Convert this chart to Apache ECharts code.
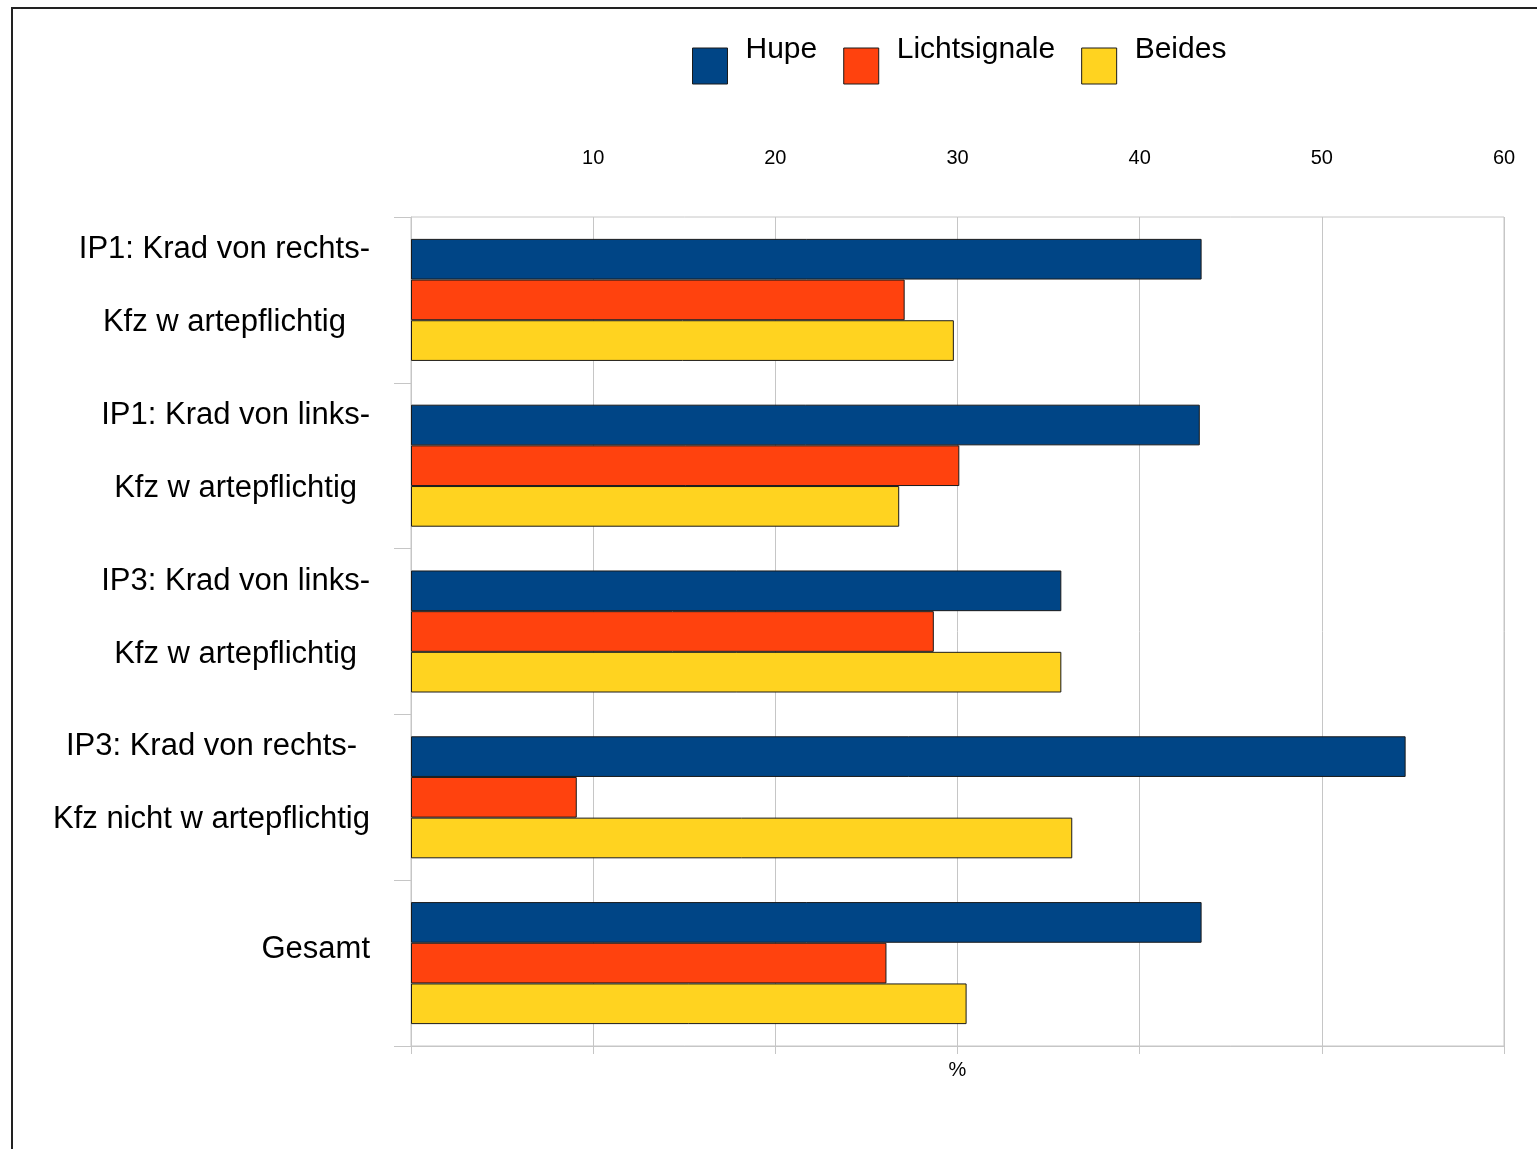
<!DOCTYPE html>
<html>
<head>
<meta charset="utf-8">
<script src="https://cdn.jsdelivr.net/npm/echarts@6/dist/echarts.min.js"></script>
<style>
html,body{margin:0;padding:0;background:#fff;}
#frame{position:absolute;left:11px;top:7px;width:1600px;height:1200px;border-left:2px solid #222;border-top:2px solid #222;}
#chart{position:absolute;left:0;top:0;width:1537px;height:1149px;}
</style>
</head>
<body>
<div id="frame"></div>
<div id="chart"></div>
<script>
const categories = [
  'IP1: Krad von rechts-\nKfz w artepflichtig',
  'IP1: Krad von links-\nKfz w artepflichtig',
  'IP3: Krad von links-\nKfz w artepflichtig',
  'IP3: Krad von rechts-\nKfz nicht w artepflichtig',
  'Gesamt'
];
const seriesNames = ['Hupe', 'Lichtsignale', 'Beides'];
const hupe = [43.4, 43.3, 35.7, 54.6, 43.4];
const lichtsignale = [27.1, 30.1, 28.7, 9.1, 26.1];
const beides = [29.8, 26.8, 35.7, 36.3, 30.5];
const colors = ['#004586', '#ff420e', '#ffd320'];
const axisName = '%';

const FONT = "'Liberation Sans', Arial, sans-serif";
const chart = echarts.init(document.getElementById('chart'), null, {renderer: 'canvas'});
const gridColor = '#c6c6c6';

const barStyle = (c) => ({color: c, borderColor: '#1a1a1a', borderWidth: 1});

chart.setOption({
  backgroundColor: 'transparent',
  animation: false,
  textStyle: {fontFamily: FONT, color: '#000'},
  legend: {
    left: 692, top: 35, padding: 0,
    itemWidth: 35, itemHeight: 36, itemGap: 26,
    icon: 'rect',
    itemStyle: {borderColor: '#1a1a1a', borderWidth: 1},
    formatter: n => '{t|' + n + '}',
    textStyle: {
      fontSize: 30, fontFamily: FONT, color: '#000', padding: [0, 0, 32, 13],
      rich: {t: {fontSize: 30, lineHeight: 36, fontFamily: FONT, color: '#000'}}
    },
    data: seriesNames
  },
  grid: {
    left: 411, right: 33, top: 217, bottom: 103,
    show: true, borderColor: gridColor, borderWidth: 1, containLabel: false
  },
  xAxis: [
    {
      type: 'value', position: 'top', min: 0, max: 60, interval: 10,
      axisLine: {show: false}, axisTick: {show: false},
      splitLine: {show: true, lineStyle: {color: gridColor, width: 1}},
      axisLabel: {fontSize: 20, color: '#000', fontFamily: FONT, margin: 49,
        formatter: v => v === 0 ? '' : String(v)}
    },
    {
      type: 'value', position: 'bottom', min: 0, max: 60, interval: 10,
      axisLine: {show: true, lineStyle: {color: gridColor, width: 1}},
      axisTick: {show: true, length: 8, lineStyle: {color: gridColor}},
      splitLine: {show: false},
      axisLabel: {show: false},
      name: axisName, nameLocation: 'middle', nameGap: 14,
      nameTextStyle: {fontSize: 20, color: '#000', fontFamily: FONT, verticalAlign: 'top'}
    }
  ],
  yAxis: {
    type: 'category', inverse: true, data: categories,
    axisLine: {show: true, lineStyle: {color: gridColor}},
    axisTick: {show: true, length: 17, lineStyle: {color: gridColor}},
    axisLabel: {
      margin: 41, align: 'right', padding: [0, 0, 28, 0],
      formatter: v => v.split('\n').map(s => '{c|' + s + '}').join('\n'),
      rich: {c: {fontSize: 31, lineHeight: 73, align: 'center', color: '#000', fontFamily: FONT}}
    }
  },
  series: [
    {name: seriesNames[0], type: 'bar', xAxisIndex: 0, data: hupe, itemStyle: barStyle(colors[0]), barGap: '0%', barCategoryGap: '26.4%'},
    {name: seriesNames[1], type: 'bar', xAxisIndex: 0, data: lichtsignale, itemStyle: barStyle(colors[1]), barGap: '0%', barCategoryGap: '26.4%'},
    {name: seriesNames[2], type: 'bar', xAxisIndex: 0, data: beides, itemStyle: barStyle(colors[2]), barGap: '0%', barCategoryGap: '26.4%'}
  ]
});
</script>
</body>
</html>
